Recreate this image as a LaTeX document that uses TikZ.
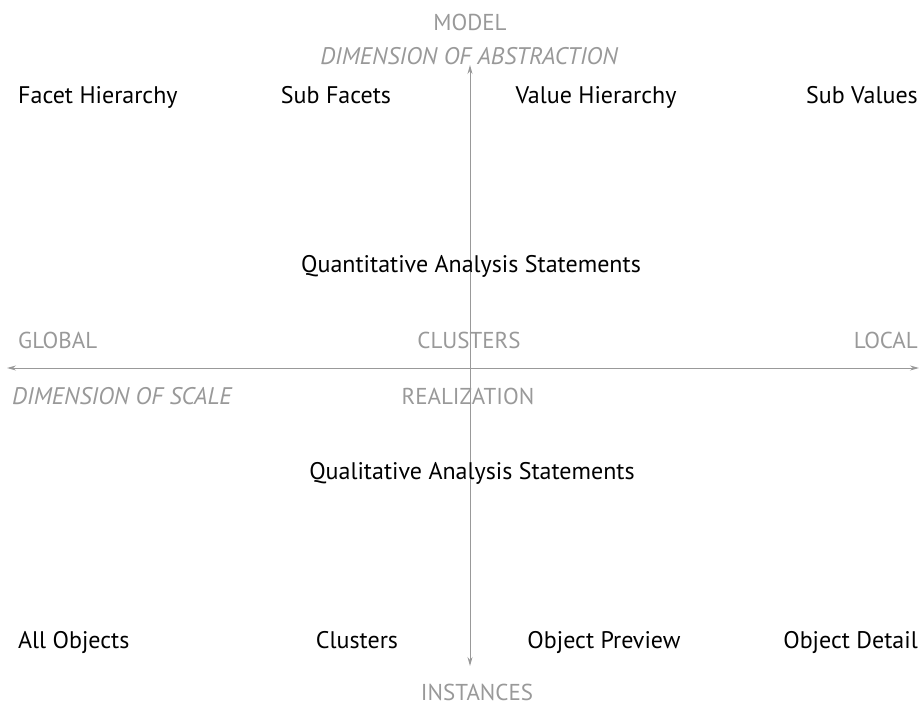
\documentclass[tikz,border=0pt]{standalone}
\usepackage{fontspec}
\setmainfont{PT Sans}
\usetikzlibrary{arrows.meta}
\definecolor{axisgray}{HTML}{999999}
\tikzset{
  axislabel/.style={text=axisgray,inner sep=0pt,font=\fontsize{23}{27}\selectfont},
  dimlabel/.style={axislabel,font=\fontsize{24}{28}\selectfont\itshape},
  item/.style={inner sep=0pt,font=\fontsize{24}{28}\selectfont},
  axis/.style={draw=axisgray,line width=1pt,{Stealth[length=9pt,width=5pt]}-{Stealth[length=9pt,width=5pt]}}
}
\begin{document}
\begin{tikzpicture}[x=1pt,y=-1pt]
\useasboundingbox (0,0) rectangle (921,706);
% axes
\coordinate (top) at (470,65);
\coordinate (bottom) at (470,666);
\coordinate (left) at (7,368);
\coordinate (right) at (919,368);
\draw[axis] (bottom) -- (top);
\draw[axis] (left) -- (right);
% axis labels
\node[axislabel,anchor=base] (model) at (470,31) {MODEL};
\node[dimlabel,anchor=base] (abstr) at (469,65) {DIMENSION OF ABSTRACTION};
\node[axislabel,anchor=base west] (global) at (18,348) {GLOBAL};
\node[axislabel,anchor=base] (clusterslab) at (469,348) {CLUSTERS};
\node[axislabel,anchor=base east] (local) at (918,348) {LOCAL};
\node[dimlabel,anchor=base west] (scale) at (12,404) {DIMENSION OF SCALE};
\node[axislabel,anchor=base] (real) at (468,404) {REALIZATION};
\node[axislabel,anchor=base] (inst) at (477,700) {INSTANCES};
% model row
\node[item,anchor=base west] (facethier) at (18,104) {Facet Hierarchy};
\node[item,anchor=base] (subfacets) at (336,104) {Sub Facets};
\node[item,anchor=base] (valuehier) at (596,104) {Value Hierarchy};
\node[item,anchor=base east] (subvalues) at (918,104) {Sub Values};
% statements
\node[item,anchor=base] (quant) at (471,272) {Quantitative Analysis Statements};
\node[item,anchor=base] (qual) at (472,479) {Qualitative Analysis Statements};
% instance row
\node[item,anchor=base west] (allobj) at (18,648) {All Objects};
\node[item,anchor=base] (clusters) at (357,648) {Clusters};
\node[item,anchor=base] (objprev) at (604,648) {Object Preview};
\node[item,anchor=base east] (objdet) at (918,648) {Object Detail};
\end{tikzpicture}
\end{document}
